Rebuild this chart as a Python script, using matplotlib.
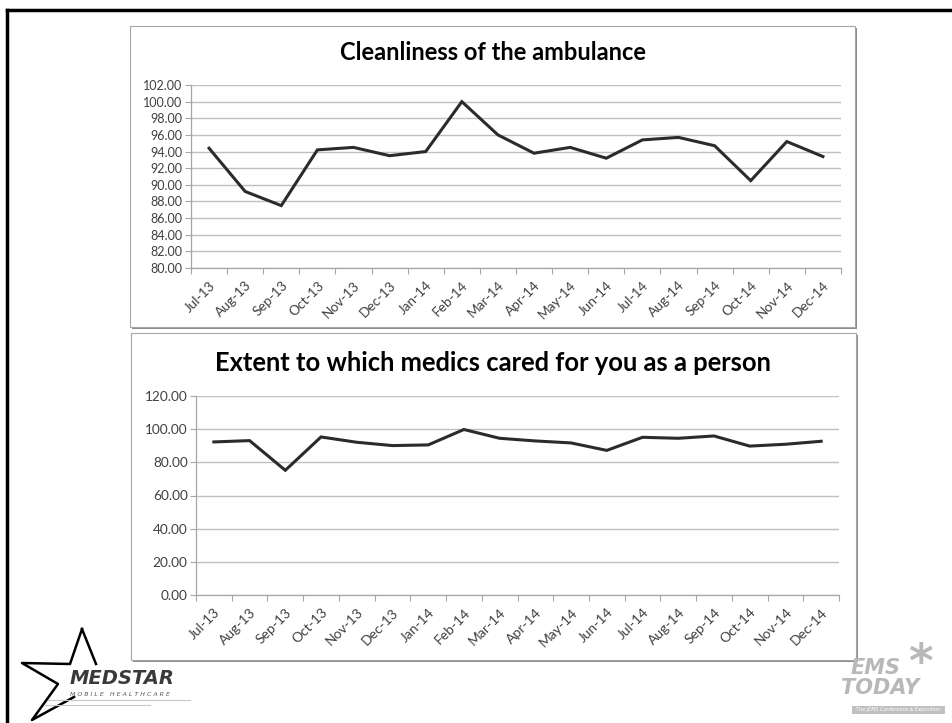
import matplotlib
matplotlib.use("Agg")
import matplotlib.pyplot as plt
from matplotlib.patches import Rectangle
from matplotlib.lines import Line2D
from matplotlib.ticker import FixedLocator, FormatStrFormatter

months = ["Jul-13", "Aug-13", "Sep-13", "Oct-13", "Nov-13", "Dec-13", "Jan-14",
          "Feb-14", "Mar-14", "Apr-14", "May-14", "Jun-14", "Jul-14", "Aug-14",
          "Sep-14", "Oct-14", "Nov-14", "Dec-14"]
cleanliness = [94.4, 89.2, 87.5, 94.2, 94.5, 93.5, 94.0, 100.0, 96.0, 93.8,
               94.5, 93.2, 95.4, 95.7, 94.7, 90.5, 95.2, 93.4]
cared = [92.3, 93.1, 75.2, 95.3, 92.1, 90.1, 90.5, 99.8, 94.5, 92.9,
         91.7, 87.2, 95.1, 94.5, 95.9, 89.8, 90.9, 92.7]
title_top = "Cleanliness of the ambulance"
title_bottom = "Extent to which medics cared for you as a person"
yticks_top = [80, 82, 84, 86, 88, 90, 92, 94, 96, 98, 100, 102]
yticks_bottom = [0, 20, 40, 60, 80, 100, 120]

W, H = 953, 723
FONT = "Lato"
fig = plt.figure(figsize=(W / 100, H / 100), dpi=100)
fig.patch.set_facecolor("white")


def fx(x):
    return x / W


def fy(y):
    return 1 - y / H


def rect_px(x0, y0, x1, y1):
    return [fx(x0), fy(y1), fx(x1) - fx(x0), fy(y0) - fy(y1)]


# slide border (top and left)
fig.add_artist(Line2D([fx(7), fx(953)], [fy(10), fy(10)], color="black", lw=2.5,
                      transform=fig.transFigure))
fig.add_artist(Line2D([fx(7), fx(7)], [fy(10), fy(723)], color="black", lw=2.5,
                      transform=fig.transFigure))


def chart_box(x0, y0, x1, y1):
    fig.add_artist(Rectangle((fx(x0 + 2), fy(y1 + 2)), fx(x1 - x0), fy(y0) - fy(y1),
                             transform=fig.transFigure, facecolor="#8c8c8c",
                             edgecolor="none", zorder=0))
    fig.add_artist(Rectangle((fx(x0), fy(y1)), fx(x1 - x0), fy(y0) - fy(y1),
                             transform=fig.transFigure, facecolor="white",
                             edgecolor="#a6a6a6", lw=0.8, zorder=0.5))


chart_box(130, 26, 855, 327)
chart_box(131, 333, 856, 660)


def style_axes(ax, values, yticks, fs, xfs):
    x = list(range(len(months)))
    ax.plot(x, values, color="#2b2b2b", lw=2.2, solid_joinstyle="miter", zorder=3)
    ax.set_xlim(-0.5, len(months) - 0.5)
    ax.set_ylim(yticks[0], yticks[-1])
    ax.yaxis.set_major_locator(FixedLocator(yticks))
    ax.yaxis.set_major_formatter(FormatStrFormatter("%.2f"))
    ax.xaxis.set_major_locator(FixedLocator(x))
    ax.set_xticklabels(months, rotation=45, ha="right", rotation_mode="anchor",
                       fontsize=xfs, color="#404040", family=FONT)
    ax.xaxis.set_minor_locator(FixedLocator([i - 0.5 for i in range(len(months) + 1)]))
    ax.tick_params(axis="x", which="major", length=0, pad=8)
    ax.tick_params(axis="x", which="minor", length=4, width=0.8, color="#a6a6a6",
                   direction="out")
    ax.tick_params(axis="y", length=4, width=0.8, color="#a6a6a6", pad=2,
                   labelsize=fs, labelcolor="#404040")
    for lab in ax.get_yticklabels():
        lab.set_family(FONT)
    ax.grid(axis="y", color="#bfbfbf", lw=1.0)
    ax.set_axisbelow(True)
    for s in ["top", "right"]:
        ax.spines[s].set_visible(False)
    for s in ["left", "bottom"]:
        ax.spines[s].set_color("#a6a6a6")
        ax.spines[s].set_linewidth(0.9)
    ax.set_facecolor("none")
    ax.set_zorder(2)


ax1 = fig.add_axes(rect_px(191, 85, 841, 268))
style_axes(ax1, cleanliness, yticks_top, 9, 9.8)
ax2 = fig.add_axes(rect_px(196, 396, 839, 595))
style_axes(ax2, cared, yticks_bottom, 9.8, 10)

fig.text(fx(493), fy(53), title_top, ha="center", va="center", fontsize=17,
         fontweight="bold", family=FONT, color="black", zorder=3)
fig.text(fx(493), fy(363), title_bottom, ha="center", va="center", fontsize=18.4,
         fontweight="bold", family=FONT, color="black", zorder=3)

# MedStar logo (approximation)
star = [(82, 629), (70, 664), (22, 663), (58, 684), (32, 720), (74, 697)]
fig.add_artist(Line2D([fx(p[0]) for p in star], [fy(p[1]) for p in star],
                      color="black", lw=1.8, transform=fig.transFigure))
fig.add_artist(Line2D([fx(82), fx(96)], [fy(629), fy(664)], color="black", lw=1.8,
                      transform=fig.transFigure))
fig.text(fx(122), fy(678), "MEDSTAR", ha="center", va="center", fontsize=14,
         fontweight="black", style="italic", family="DejaVu Sans", color="#3a3a3a")
fig.text(fx(120), fy(694), "M O B I L E   H E A L T H C A R E", ha="center",
         va="center", fontsize=4.5, style="italic", family="DejaVu Sans", color="#555555")
for yy, x0, x1 in [(700, 48, 190), (705, 45, 150)]:
    fig.add_artist(Line2D([fx(x0), fx(x1)], [fy(yy), fy(yy)], color="#c8c8c8",
                          lw=0.8, transform=fig.transFigure))

# EMS Today logo (approximation)
fig.text(fx(876), fy(668), "EMS", ha="center", va="center", fontsize=15,
         fontweight="bold", style="italic", family="DejaVu Sans", color="#b8b8b8")
fig.text(fx(880), fy(688), "TODAY", ha="center", va="center", fontsize=15,
         fontweight="bold", style="italic", family="DejaVu Sans", color="#b8b8b8")
fig.text(fx(920), fy(664), "*", ha="center", va="center", fontsize=34,
         fontweight="bold", family="DejaVu Sans", color="#b8b8b8")
fig.add_artist(Rectangle((fx(852), fy(714)), fx(93), fy(706) - fy(714),
                         transform=fig.transFigure, facecolor="#c0c0c0",
                         edgecolor="none"))
fig.text(fx(898), fy(710), "The JEMS Conference & Exposition", ha="center",
         va="center", fontsize=3.5, style="italic", family="DejaVu Sans", color="white")

fig.savefig("out.png", dpi=100)
